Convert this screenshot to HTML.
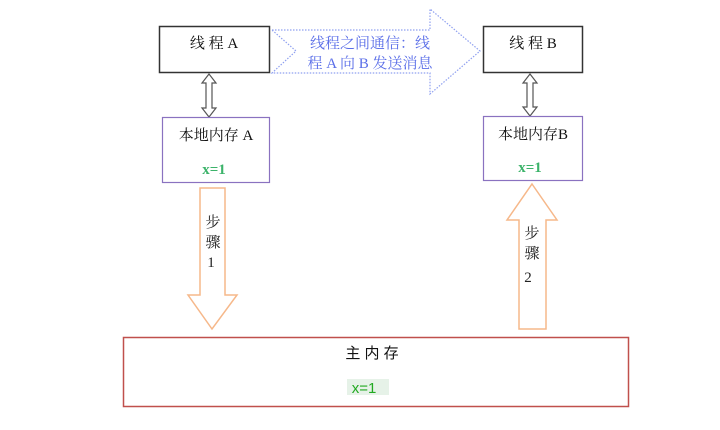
<!DOCTYPE html>
<html><head><meta charset="utf-8"><style>
body{margin:0;background:#fff;}
svg text{font-family:"Liberation Serif","Noto Serif CJK SC","Noto Sans CJK SC",serif;}
</style></head><body>
<svg width="720" height="425" viewBox="0 0 720 425" xmlns="http://www.w3.org/2000/svg">
<polygon points="272,30 430,30 430,9 480,51 430,94 430,73 272,73 296,51" fill="#fff" stroke="#8fa0f0" stroke-width="1.2" stroke-dasharray="1.5,1.5"/>
<text x="370" y="48" font-size="15" fill="#5a6ee8" text-anchor="middle">线程之间通信：线</text>
<text x="370" y="68" font-size="15" fill="#5a6ee8" text-anchor="middle">程 A 向 B 发送消息</text>
<rect x="159.5" y="26.5" width="110" height="46" fill="#fff" stroke="#333" stroke-width="1.5"/>
<text x="214" y="48" font-size="15" fill="#111" text-anchor="middle">线 程 A</text>
<rect x="483.5" y="26.5" width="99" height="46" fill="#fff" stroke="#333" stroke-width="1.5"/>
<text x="533" y="48" font-size="15" fill="#111" text-anchor="middle">线 程 B</text>
<polygon points="209,74 216,83 212,83 212,108 216,108 209,117 202,108 206,108 206,83 202,83" fill="#fff" stroke="#555" stroke-width="1.2"/>
<polygon points="530,74 537,83 533,83 533,107 537,107 530,116 523,107 527,107 527,83 523,83" fill="#fff" stroke="#555" stroke-width="1.2"/>
<rect x="162.5" y="117.5" width="107" height="65" fill="#fff" stroke="#8a72c0" stroke-width="1.2"/>
<text x="216" y="140" font-size="15" fill="#111" text-anchor="middle">本地内存 A</text>
<text x="214" y="174" font-size="15" font-weight="bold" fill="#3cb36a" text-anchor="middle">x=1</text>
<rect x="483.5" y="116.5" width="99" height="64" fill="#fff" stroke="#8a72c0" stroke-width="1.2"/>
<text x="533" y="139" font-size="15" fill="#111" text-anchor="middle">本地内存B</text>
<text x="530" y="172" font-size="15" font-weight="bold" fill="#3cb36a" text-anchor="middle">x=1</text>
<polygon points="200,188 225,188 225,295 237,295 212,329 188,295 200,295" fill="#fff" stroke="#f6b88a" stroke-width="1.5"/>
<text x="213" y="227" font-size="15" fill="#222" text-anchor="middle">步</text>
<text x="213" y="247" font-size="15" fill="#222" text-anchor="middle">骤</text>
<text x="211" y="267" font-size="15" fill="#222" text-anchor="middle">1</text>
<polygon points="532,184 557,220 546,220 546,329 519,329 519,220 507,220" fill="#fff" stroke="#f6b88a" stroke-width="1.5"/>
<text x="532" y="238" font-size="15" fill="#222" text-anchor="middle">步</text>
<text x="532" y="258" font-size="15" fill="#222" text-anchor="middle">骤</text>
<text x="528" y="282" font-size="15" fill="#222" text-anchor="middle">2</text>
<rect x="123.5" y="337.5" width="505" height="69" fill="#fff" stroke="#c0504d" stroke-width="1.5"/>
<text x="372" y="358" font-size="15" fill="#111" text-anchor="middle" style="font-family:'Liberation Sans','Noto Sans CJK SC',sans-serif">主 内 存</text>
<rect x="347" y="379" width="42" height="16" fill="#e6f2e8"/>
<text x="364" y="393" font-size="15" fill="#22aa22" text-anchor="middle" style="font-family:'Liberation Sans',sans-serif">x=1</text>
</svg>
</body></html>
